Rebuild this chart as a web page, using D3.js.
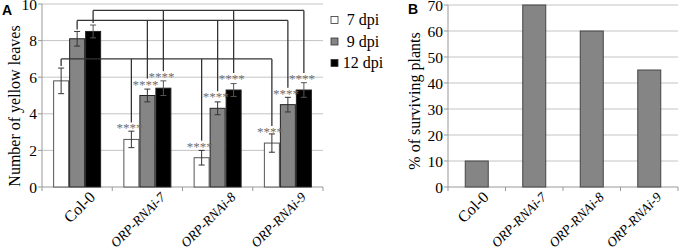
<!DOCTYPE html>
<html><head><meta charset="utf-8">
<script src="https://cdn.jsdelivr.net/npm/d3@7"></script>
<style>body{margin:0;background:#fff}svg{display:block}</style>
</head><body>
<svg id="c" width="680" height="250"></svg>
<script>
const categories = ["Col-0","ORP-RNAi-7","ORP-RNAi-8","ORP-RNAi-9"];
const seriesNames = ["7 dpi","9 dpi","12 dpi"];
const yellow7 = [5.8,2.6,1.6,2.4];
const err7 = [0.7,0.45,0.4,0.5];
const yellow9 = [8.1,5.0,4.3,4.5];
const err9 = [0.4,0.35,0.35,0.4];
const yellow12 = [8.5,5.4,5.3,5.3];
const err12 = [0.35,0.4,0.35,0.4];
const survival = [10,70,60,45];
const yTicksA = [0,2,4,6,8,10];
const yTicksB = [0,10,20,30,40,50,60,70];
const sigLabel = "****";

const seriesVals = [yellow7, yellow9, yellow12];
const seriesErr = [err7, err9, err12];
const fills = ["#ffffff","#858585","#000000"];
const serif = "'Liberation Serif','Times New Roman',serif";
const svg = d3.select("#c");

// ---------- Panel A ----------
const xA = d3.scaleBand().domain(categories).range([42,323]).padding(0);
const x1 = d3.scaleBand().domain(seriesNames).range([0,48]).padding(0);
const yA = d3.scaleLinear().domain([0,10]).range([187,4]);
const gA = svg.append("g");
const bx = (ci, si) => xA(categories[ci]) + (xA.bandwidth()-48)/2 + x1(seriesNames[si]);
const bw = x1.bandwidth();

gA.selectAll("line.grid").data(yTicksA.filter(d=>d>0)).join("line")
  .attr("x1",42).attr("x2",323).attr("y1",d=>yA(d)).attr("y2",d=>yA(d))
  .attr("stroke","#c4c4c4").attr("stroke-width",1);

// axes
gA.append("line").attr("x1",42).attr("x2",42).attr("y1",yA(10)).attr("y2",yA(0)).attr("stroke","#999");
gA.append("line").attr("x1",42).attr("x2",323).attr("y1",yA(0)).attr("y2",yA(0)).attr("stroke","#999");
gA.selectAll("line.yt").data(yTicksA).join("line")
  .attr("x1",38).attr("x2",42).attr("y1",d=>yA(d)).attr("y2",d=>yA(d)).attr("stroke","#999");
const bandEdges = categories.map(c=>xA(c)).concat([xA.range()[1]]);
gA.selectAll("line.xt").data(bandEdges).join("line")
  .attr("x1",d=>d).attr("x2",d=>d).attr("y1",yA(0)).attr("y2",yA(0)+4).attr("stroke","#999");
gA.selectAll("text.yl").data(yTicksA).join("text")
  .attr("x",37).attr("y",d=>yA(d)+5.5).attr("text-anchor","end")
  .attr("font-family",serif).attr("font-size",15.5).text(d=>d);

// bars
seriesNames.forEach((s,si)=>{
  gA.selectAll("rect.s"+si).data(categories).join("rect")
    .attr("x",(d,ci)=>bx(ci,si)+0.5).attr("width",bw-1)
    .attr("y",(d,ci)=>yA(seriesVals[si][ci])).attr("height",(d,ci)=>yA(0)-yA(seriesVals[si][ci]))
    .attr("fill",fills[si]).attr("stroke",si===0?"#555":"#222").attr("stroke-width",1);
});
// error bars
seriesNames.forEach((s,si)=>{
  categories.forEach((c,ci)=>{
    const cx = bx(ci,si)+bw/2, v=seriesVals[si][ci], e=seriesErr[si][ci];
    const col = si===2 ? "#555" : "#333";
    gA.append("line").attr("x1",cx).attr("x2",cx).attr("y1",yA(v+e)).attr("y2",yA(Math.max(v-e,0))).attr("stroke",col);
    gA.append("line").attr("x1",cx-3).attr("x2",cx+3).attr("y1",yA(v+e)).attr("y2",yA(v+e)).attr("stroke",col);
    gA.append("line").attr("x1",cx-3).attr("x2",cx+3).attr("y1",yA(v-e)).attr("y2",yA(v-e)).attr("stroke",col);
  });
});
// significance brackets
const levels = [7.0, 9.1, 9.65];
seriesNames.forEach((s,si)=>{
  const ly = yA(levels[si]);
  const x0 = bx(0,si)+bw/2, xEnd = bx(3,si)+bw/2;
  const col0Top = yA(seriesVals[si][0]+seriesErr[si][0]) - 2;
  gA.append("line").attr("x1",x0).attr("x2",xEnd).attr("y1",ly).attr("y2",ly).attr("stroke","#333").attr("stroke-width",1.3);
  gA.append("line").attr("x1",x0).attr("x2",x0).attr("y1",ly).attr("y2",col0Top).attr("stroke","#333").attr("stroke-width",1.3);
  for(let ci=1;ci<categories.length;ci++){
    const cx = bx(ci,si)+bw/2;
    const starC = yA(seriesVals[si][ci]) - 13;
    gA.append("line").attr("x1",cx).attr("x2",cx).attr("y1",ly).attr("y2",starC-4).attr("stroke","#333").attr("stroke-width",1.3);
    gA.append("text").attr("x",cx-2).attr("y",starC+6).attr("text-anchor","middle")
      .attr("font-family",serif).attr("font-size",13).attr("fill","#6e6e6e").text(sigLabel);
  }
});
// legend
seriesNames.forEach((s,si)=>{
  const cy = 20 + si*21.5;
  gA.append("rect").attr("x",331).attr("y",cy-3.5).attr("width",7).attr("height",7)
    .attr("fill",fills[si]).attr("stroke","#333").attr("stroke-width",0.8);
  gA.append("text").attr("x",363).attr("y",cy+5).attr("text-anchor","middle")
    .attr("font-family",serif).attr("font-size",16).text(s);
});
// x labels
gA.selectAll("text.xl").data(categories).join("text")
  .attr("transform",d=>`translate(${xA(d)+xA.bandwidth()/2+19},198) rotate(-45)`)
  .attr("text-anchor","end").attr("font-family",serif)
  .attr("font-size",(d,i)=>i===0?16:13.5).attr("font-style",(d,i)=>i===0?"normal":"italic").text(d=>d);
gA.append("text").attr("transform","translate(20,106) rotate(-90)").attr("text-anchor","middle")
  .attr("font-family",serif).attr("font-size",16).text("Number of yellow leaves");
gA.append("text").attr("x",2).attr("y",15).attr("font-family","'Liberation Sans',Arial,sans-serif")
  .attr("font-weight","bold").attr("font-size",14).text("A");

// ---------- Panel B ----------
const xB = d3.scaleBand().domain(categories).range([448,678]).padding(0);
const yB = d3.scaleLinear().domain([0,70]).range([187,5]);
const gB = svg.append("g");
gB.selectAll("line.grid").data(yTicksB.filter(d=>d>0)).join("line")
  .attr("x1",448).attr("x2",678).attr("y1",d=>yB(d)).attr("y2",d=>yB(d))
  .attr("stroke","#c4c4c4");
gB.append("line").attr("x1",448).attr("x2",448).attr("y1",yB(70)).attr("y2",yB(0)).attr("stroke","#999");
gB.append("line").attr("x1",448).attr("x2",678).attr("y1",yB(0)).attr("y2",yB(0)).attr("stroke","#999");
gB.selectAll("line.yt").data(yTicksB).join("line")
  .attr("x1",444).attr("x2",448).attr("y1",d=>yB(d)).attr("y2",d=>yB(d)).attr("stroke","#999");
const edgesB = categories.map(c=>xB(c)).concat([xB.range()[1]]);
gB.selectAll("line.xt").data(edgesB).join("line")
  .attr("x1",d=>d).attr("x2",d=>d).attr("y1",yB(0)).attr("y2",yB(0)+4).attr("stroke","#999");
gB.selectAll("text.yl").data(yTicksB).join("text")
  .attr("x",443).attr("y",d=>yB(d)+5.5).attr("text-anchor","end")
  .attr("font-family",serif).attr("font-size",15.5).text(d=>d);
const bwB = xB.bandwidth()*0.4;
gB.selectAll("rect.b").data(categories).join("rect")
  .attr("x",(d)=>xB(d)+xB.bandwidth()/2-bwB/2).attr("width",bwB)
  .attr("y",(d,i)=>yB(survival[i])).attr("height",(d,i)=>yB(0)-yB(survival[i]))
  .attr("fill","#858585").attr("stroke","#444").attr("stroke-width",1);
gB.selectAll("text.xl").data(categories).join("text")
  .attr("transform",d=>`translate(${xB(d)+xB.bandwidth()/2+13},198) rotate(-45)`)
  .attr("text-anchor","end").attr("font-family",serif)
  .attr("font-size",(d,i)=>i===0?16:13.5).attr("font-style",(d,i)=>i===0?"normal":"italic").text(d=>d);
gB.append("text").attr("transform","translate(420,101) rotate(-90)").attr("text-anchor","middle")
  .attr("font-family",serif).attr("font-size",16).text("% of surviving plants");
gB.append("text").attr("x",408).attr("y",14).attr("font-family","'Liberation Sans',Arial,sans-serif")
  .attr("font-weight","bold").attr("font-size",14).text("B");
</script>
</body></html>
